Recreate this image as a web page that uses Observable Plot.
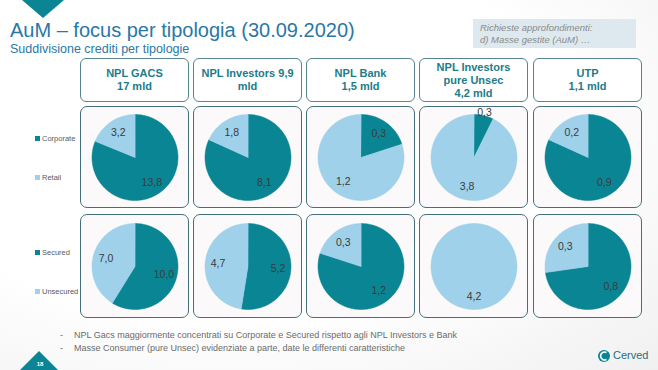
<!DOCTYPE html>
<html><head><meta charset="utf-8">
<script src="https://cdn.jsdelivr.net/npm/d3@7"></script>
<script src="https://cdn.jsdelivr.net/npm/@observablehq/plot@0.6"></script>
<style>
body{margin:0;background:#fff;font-family:"Liberation Sans",Arial,sans-serif;}
#page{position:relative;width:658px;height:370px;overflow:hidden;background:radial-gradient(ellipse at 35% 35%,#ffffff 55%,#f0f0f0 100%);}
.t{position:absolute;white-space:nowrap;}
.hdr{position:absolute;top:58px;height:42px;width:107px;border:1px solid #55848f;border-radius:6px;background:#fff;color:#217c89;font-weight:bold;font-size:11px;display:flex;align-items:center;justify-content:center;text-align:center;line-height:13px;}
.cell{position:absolute;width:107px;border:1px solid #44707c;border-radius:7px;background:#fbf9f9;overflow:hidden;}
.cell svg{display:block;}
.leg{position:absolute;font-size:7.5px;color:#5a5a5a;display:flex;align-items:center;}
.leg span{display:inline-block;width:5px;height:5px;margin-right:2px;}
</style></head>
<body><div id="page"></div>
<script>
// ---- data ----
const headers = [["NPL GACS","17 mld"],["NPL Investors 9,9","mld"],["NPL Bank","1,5 mld"],["NPL Investors","pure Unsec","4,2 mld"],["UTP","1,1 mld"]];
const corporate = [13.8, 8.1, 0.3, 0.3, 0.9];
const retail    = [3.2, 1.8, 1.2, 3.8, 0.2];
const secured   = [10.0, 5.2, 1.2, 0, 0.8];
const unsecured = [7.0, 4.7, 0.3, 4.2, 0.3];
const rowSeries = [["Corporate","Retail"],["Secured","Unsecured"]];
const bullets = ["NPL Gacs maggiormente concentrati su Corporate e Secured rispetto agli NPL Investors e Bank",
                 "Masse Consumer (pure Unsec) evidenziate a parte, date le differenti caratteristiche"];
const title = "AuM \u2013 focus per tipologia (30.09.2020)";
const subtitle = "Suddivisione crediti per tipologie";
const note = ["Richieste approfondimenti:","d) Masse gestite (AuM) \u2026"];

// ---- styles ----
const colors = ["#0a8593", "#9fd1eb"];
const page = document.getElementById("page");
const colLeft = [80, 193, 306, 419, 533];
const rowTop = [106, 214], rowH = [100, 102];
const R = 43;
const fmt = v => d3.format(".1f")(v).replace(".", ",");

function add(html){ page.insertAdjacentHTML("beforeend", html); }

// decorations
add(`<svg class="t" style="left:0;top:0" width="658" height="370">
<polygon points="22,0 64,0 43,18" fill="#0b8593"/>
<polygon points="20,370 58,370 39,351" fill="#0b8593"/>
<text x="40" y="366" fill="#fff" font-size="6" font-weight="bold" text-anchor="middle" font-family="Liberation Sans, Arial">18</text>
<rect x="473" y="19" width="163" height="29" fill="#dde9ee"/>
<circle cx="604" cy="356" r="6" fill="#0b8593"/>
<path d="M606.5 352.5 A4 4 0 1 0 606.5 359.5" fill="none" stroke="#fff" stroke-width="1.6"/>
</svg>`);
add(`<div class="t" style="left:10px;top:20.5px;font-size:20px;line-height:18px;color:#2a78a5">${title}</div>`);
add(`<div class="t" style="left:10px;top:42.5px;font-size:12.5px;line-height:12px;color:#2a78a5">${subtitle}</div>`);
add(`<div class="t" style="left:480px;top:22px;font-size:9.5px;line-height:12px;color:#8a8a8a;font-style:italic">${note.join("<br>")}</div>`);
add(`<div class="t" style="left:613px;top:349px;font-size:11px;line-height:13px;color:#2b6c7b">Cerved</div>`);
bullets.forEach((b,i)=>{
  add(`<div class="t" style="left:60px;top:${330+i*13}px;font-size:9px;line-height:11px;color:#6b6b6b">-</div>`);
  add(`<div class="t" style="left:74px;top:${330+i*13}px;font-size:9px;line-height:11px;color:#6b6b6b">${b}</div>`);
});

// headers
headers.forEach((h,i)=> add(`<div class="hdr" style="left:${colLeft[i]}px"><div>${h.join("<br>")}</div></div>`));

// legends
rowSeries.forEach((names,r)=>{
  names.forEach((n,k)=>{
    const cy = rowTop[r] + (r===0 ? 32 : 38) + k*39;
    add(`<div class="leg" style="left:35px;top:${cy-5}px;height:10px"><span style="background:${colors[k]}"></span>${n}</div>`);
  });
});

function pie(values, names, W, H){
  const total = d3.sum(values);
  let a = 0; const slices = [];
  values.forEach((v,i)=>{
    if (v <= 0) return;
    const a0 = a, a1 = a + v/total*2*Math.PI; a = a1;
    slices.push({name:names[i], v, a0, a1, i, frac: v/total});
  });
  const marks = slices.map(s=>{
    const n = Math.max(2, Math.ceil((s.a1-s.a0)/(Math.PI/120)));
    const pts = [{x:0,y:0}];
    for (let k=0;k<=n;k++){ const t = s.a0 + (s.a1-s.a0)*k/n; pts.push({x:Math.sin(t), y:Math.cos(t)}); }
    return Plot.line(pts, {x:"x", y:"y", fill:colors[s.i], stroke:colors[s.i], strokeWidth:0.5, curve:"linear-closed"});
  });
  const lr = s => s.frac < 0.1 ? 1.08 : 0.7;
  marks.push(Plot.text(slices, {
    x: s => lr(s)*Math.sin((s.a0+s.a1)/2),
    y: s => lr(s)*Math.cos((s.a0+s.a1)/2),
    text: s => fmt(s.v), fill:"#3b3b3b", fontSize:10.5
  }));
  return Plot.plot({
    width: W, height: H, margin: 0,
    x: {domain:[-W/2/R, W/2/R], axis:null},
    y: {domain:[-H/2/R, H/2/R], axis:null},
    style: {background:"transparent", fontFamily:"Liberation Sans, Arial, sans-serif", overflow:"visible"},
    marks
  });
}

const rowsData = [[corporate, retail], [secured, unsecured]];
rowsData.forEach((pair,r)=>{
  headers.forEach((h,c)=>{
    const div = document.createElement("div");
    div.className = "cell";
    div.style.left = colLeft[c]+"px";
    div.style.top = rowTop[r]+"px";
    div.style.height = rowH[r]+"px";
    div.appendChild(pie([pair[0][c], pair[1][c]], rowSeries[r], 107, rowH[r]));
    page.appendChild(div);
  });
});
</script></body></html>
